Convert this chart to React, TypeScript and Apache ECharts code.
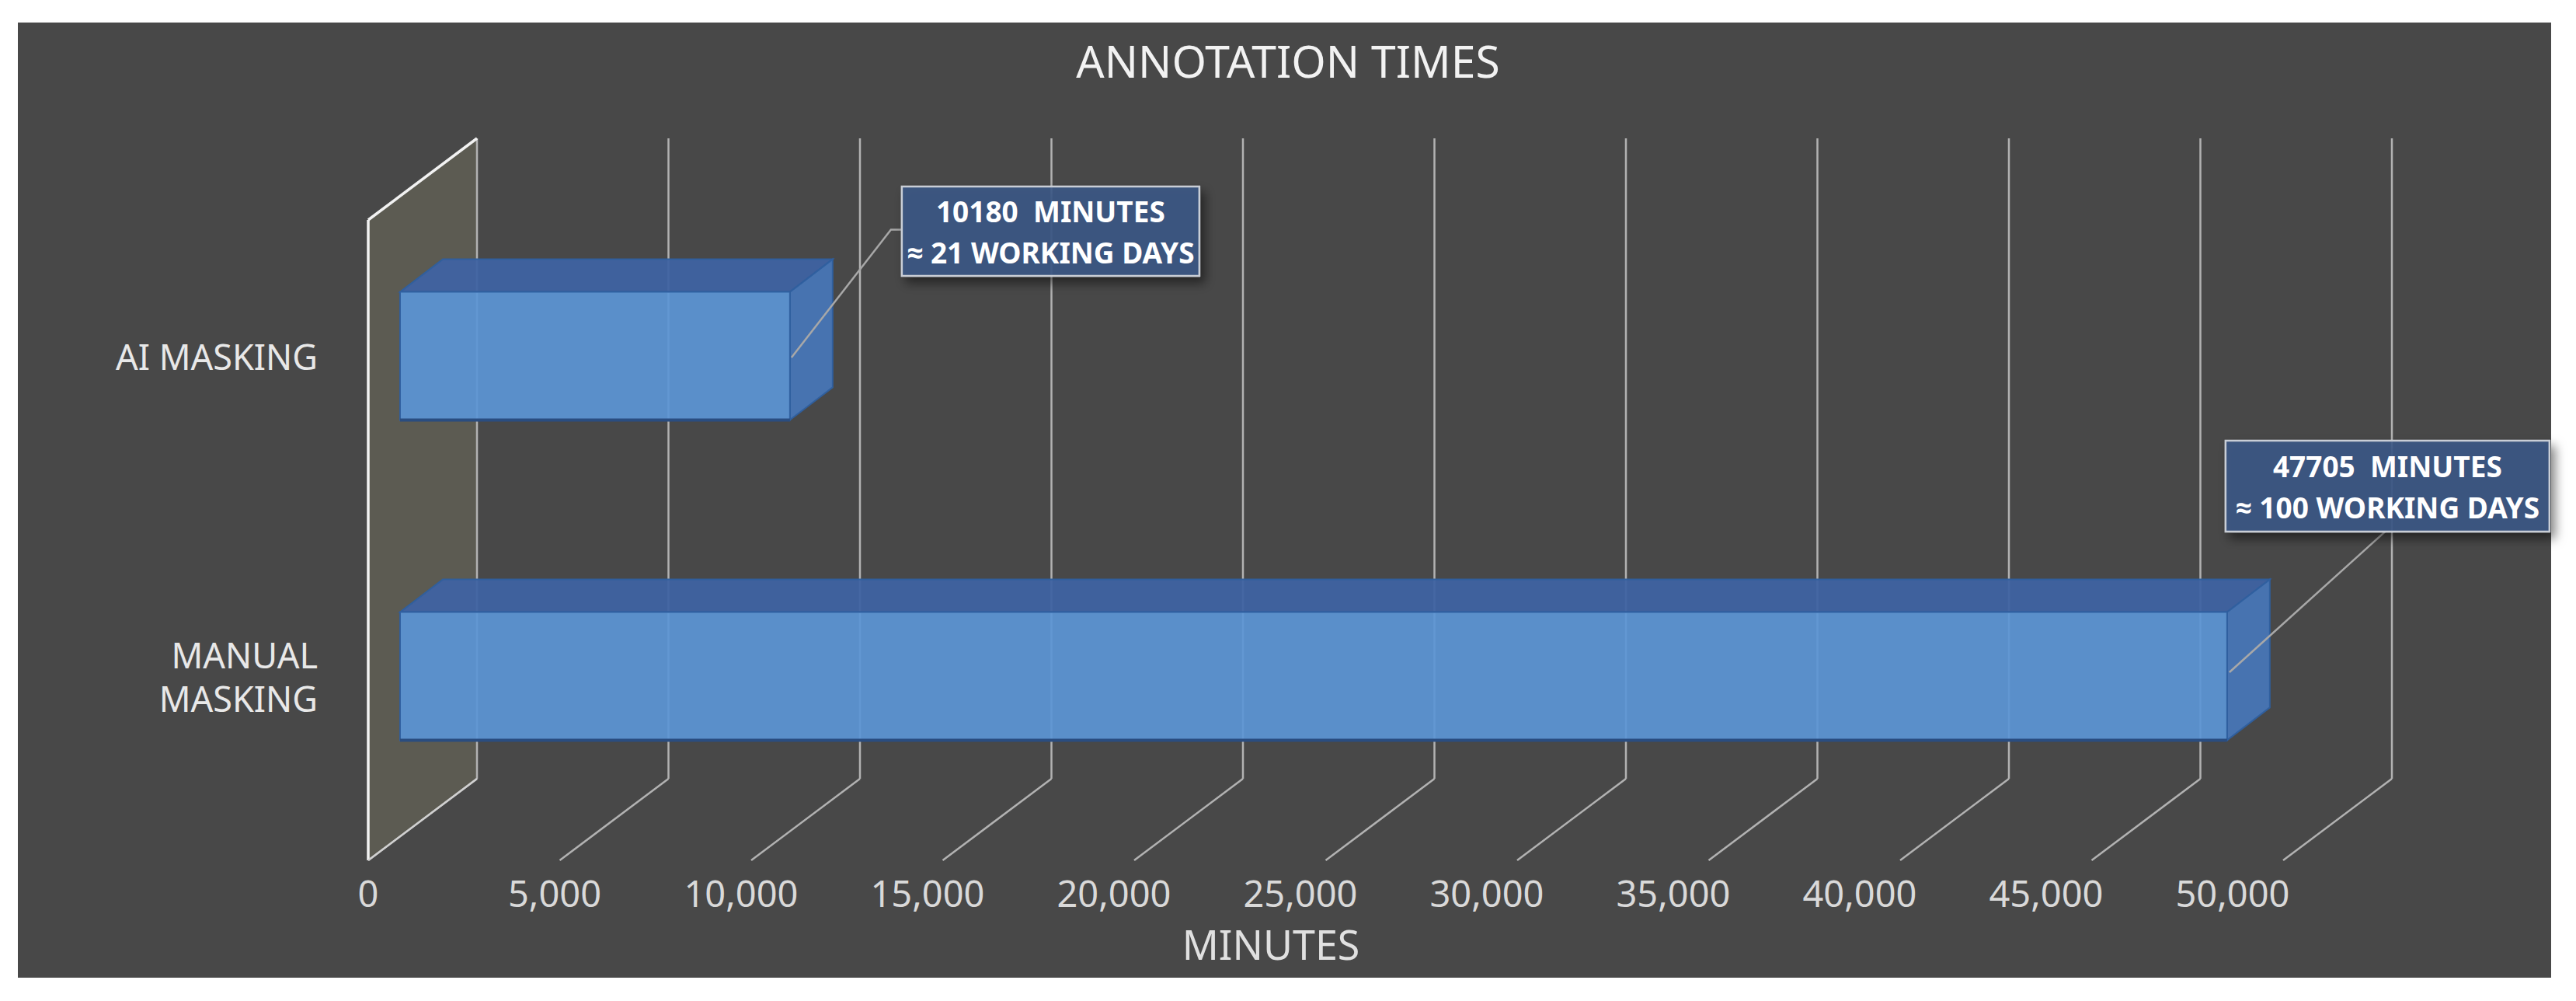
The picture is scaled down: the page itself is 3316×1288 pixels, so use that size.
import React, { useEffect, useRef } from 'react';
import * as echarts from 'echarts';

// ---------- data ----------
const categories = ['MANUAL\nMASKING', 'AI MASKING'];
const minutes = [47705, 10180];
const workingDays = [100, 21];
const tickValues = [0, 5000, 10000, 15000, 20000, 25000, 30000, 35000, 40000, 45000, 50000];
const axisMin = 0;
const axisMax = 50000;
const axisStep = 5000;
const chartTitle = 'ANNOTATION TIMES';
const axisTitle = 'MINUTES';

// ---------- layout / style constants ----------
const W = 3316;
const H = 1288;
const PANEL = { x: 23, y: 29, w: 3261, h: 1229 };
const BACK = { dx: 99, dy: -74 };
const FRONT = { dx: -41, dy: 31 };
const BAR_DEPTH = { dx: 55, dy: -42 };
const BAR_RATIO = 0.4;
const FONT = '"Noto Sans", "Open Sans", sans-serif';
const CALLOUTS = [
  { dx: -2, dy: -303, w: 417, h: 117, lead: 'bottom' },
  { dx: 144, dy: -218, w: 383, h: 115, lead: 'left' },
];

export default function App() {
  const ref = useRef<HTMLDivElement>(null);
  useEffect(() => {
    document.body.style.margin = '0';
    const chart = echarts.init(ref.current as HTMLDivElement, null, { renderer: 'svg' });

    const gridRender = (params: any, api: any) => {
      const cs = params.coordSys;
      const v = api.value(0);
      const x = api.coord([v, 0])[0];
      const top = cs.y;
      const bottom = cs.y + cs.height;
      const xb = x + BACK.dx, tb = top + BACK.dy, bb = bottom + BACK.dy;
      const xf = x + FRONT.dx, tf = top + FRONT.dy, bf = bottom + FRONT.dy;
      const children: any[] = [];
      const gridStyle = { stroke: '#b2b2b2', lineWidth: 2.5 };
      if (v === axisMin) {
        children.push({
          type: 'polygon',
          shape: { points: [[xf, tf], [xb, tb], [xb, bb], [xf, bf]] },
          style: { fill: '#5c5b52' },
        });
      }
      children.push({ type: 'line', shape: { x1: xb, y1: tb, x2: xb, y2: bb }, style: gridStyle });
      children.push({ type: 'line', shape: { x1: xb, y1: bb, x2: xf, y2: bf }, style: gridStyle });
      if (v === axisMin) {
        children.push({ type: 'line', shape: { x1: xf, y1: tf, x2: xf, y2: bf }, style: { stroke: '#f2f2f2', lineWidth: 3.5 } });
        children.push({ type: 'line', shape: { x1: xf, y1: tf, x2: xb, y2: tb }, style: { stroke: '#f2f2f2', lineWidth: 3.5 } });
        children.push({ type: 'line', shape: { x1: xf, y1: bf, x2: xb, y2: bb }, style: { stroke: '#d0d0d0', lineWidth: 2.5 } });
      }
      return { type: 'group', children };
    };

    const barRender = (params: any, api: any) => {
      const val = api.value(0);
      const cat = api.value(1);
      const p0 = api.coord([0, cat]);
      const p1 = api.coord([val, cat]);
      const band = api.size([0, 1])[1];
      const h = band * BAR_RATIO;
      const x0 = p0[0], x1 = p1[0], yc = p0[1];
      const yt = yc - h / 2, yb = yc + h / 2;
      const ddx = BAR_DEPTH.dx, ddy = BAR_DEPTH.dy;
      const edge = '#2f5f9e';
      const c = CALLOUTS[params.dataIndex];
      const bx = x1 + c.dx, by = yc + c.dy;
      const leadPts =
        c.lead === 'left'
          ? [[x1 + 2, yc + 2], [bx - 14, by + c.h / 2 - 2], [bx, by + c.h / 2 - 2]]
          : [[x1 + 3, yc - 5], [bx + c.w / 2 - 3, by + c.h]];
      const label = `${minutes[params.dataIndex]}  MINUTES\n≈ ${workingDays[params.dataIndex]} WORKING DAYS`;
      return {
        type: 'group',
        children: [
          {
            type: 'polygon',
            shape: { points: [[x0, yt], [x0 + ddx, yt + ddy], [x1 + ddx, yt + ddy], [x1, yt]] },
            style: { fill: '#3f63a2', stroke: edge, lineWidth: 2, opacity: 0.95 },
          },
          {
            type: 'polygon',
            shape: { points: [[x1, yt], [x1 + ddx, yt + ddy], [x1 + ddx, yb + ddy], [x1, yb]] },
            style: { fill: '#4876b6', stroke: edge, lineWidth: 2, opacity: 0.95 },
          },
          {
            type: 'rect',
            shape: { x: x0, y: yt, width: x1 - x0, height: h },
            style: { fill: '#5b95d4', stroke: edge, lineWidth: 2, opacity: 0.93 },
          },
          {
            type: 'line',
            shape: { x1: x0, y1: yb, x2: x1, y2: yb },
            style: { stroke: '#2a4d80', lineWidth: 4 },
          },
          {
            type: 'polyline',
            shape: { points: leadPts },
            style: { stroke: '#a8a8a8', lineWidth: 2.5, fill: 'none' },
          },
          {
            type: 'rect',
            shape: { x: bx, y: by, width: c.w, height: c.h },
            style: {
              fill: 'rgba(60,89,134,0.88)',
              stroke: '#c9ced6',
              lineWidth: 2.5,
              shadowBlur: 14,
              shadowColor: 'rgba(0,0,0,0.55)',
              shadowOffsetX: 6,
              shadowOffsetY: 8,
            },
          },
          {
            type: 'text',
            style: {
              text: label,
              x: bx + c.w / 2,
              y: by + c.h / 2,
              align: 'center',
              verticalAlign: 'middle',
              fill: '#ffffff',
              fontSize: 37,
              fontWeight: 'bold',
              fontFamily: FONT,
              lineHeight: 53,
            },
          },
        ],
      };
    };

    const option = {
      animation: false,
      backgroundColor: 'transparent',
      title: {
        text: chartTitle,
        left: 'center',
        top: 44,
        textStyle: { color: '#f2f2f2', fontSize: 57, fontFamily: FONT, fontWeight: 'normal' },
      },
      graphic: [
        {
          type: 'rect',
          z: -10,
          shape: { x: PANEL.x, y: PANEL.y, width: PANEL.w, height: PANEL.h },
          style: { fill: '#484848' },
        },
      ],
      grid: [
        { left: 515, top: 252, width: 2465, height: 824 },
        { left: 474, top: 1100, width: 2400, height: 7 },
      ],
      xAxis: [
        {
          type: 'value',
          gridIndex: 0,
          min: axisMin,
          max: axisMax,
          interval: axisStep,
          show: false,
        },
        {
          type: 'value',
          gridIndex: 1,
          min: axisMin,
          max: axisMax,
          interval: axisStep,
          axisLine: { show: false },
          axisTick: { show: false },
          splitLine: { show: false },
          axisLabel: {
            show: true,
            margin: 18,
            color: '#d9d9d9',
            fontSize: 47,
            fontFamily: FONT,
            showMaxLabel: true,
            showMinLabel: true,
            formatter: (v: number) => v.toLocaleString('en-US'),
          },
          name: axisTitle,
          nameLocation: 'middle',
          nameGap: 81,
          nameTextStyle: { color: '#e0e0e0', fontSize: 52, fontFamily: FONT, padding: [0, 76, 0, 0] },
        },
      ],
      yAxis: [
        {
          type: 'category',
          gridIndex: 0,
          data: categories,
          axisLine: { show: false },
          axisTick: { show: false },
          splitLine: { show: false },
          axisLabel: {
            color: '#e8e8e8',
            fontSize: 45,
            fontFamily: FONT,
            margin: 106,
            lineHeight: 56,
            align: 'right',
            padding: [0, 0, 26, 0],
          },
        },
        { type: 'value', gridIndex: 1, show: false },
      ],
      series: [
        {
          type: 'custom',
          name: 'grid',
          xAxisIndex: 0,
          yAxisIndex: 0,
          silent: true,
          z: 1,
          data: tickValues.map((v) => [v, 0]),
          encode: { x: 0, y: 1 },
          renderItem: gridRender,
        },
        {
          type: 'custom',
          name: 'Minutes',
          xAxisIndex: 0,
          yAxisIndex: 0,
          z: 3,
          data: minutes.map((m, i) => [m, i]),
          encode: { x: 0, y: 1 },
          renderItem: barRender,
        },
      ],
    };

    chart.setOption(option as any);
    return () => chart.dispose();
  }, []);

  return <div ref={ref} style={{ width: W, height: H, background: '#ffffff' }} />;
}
